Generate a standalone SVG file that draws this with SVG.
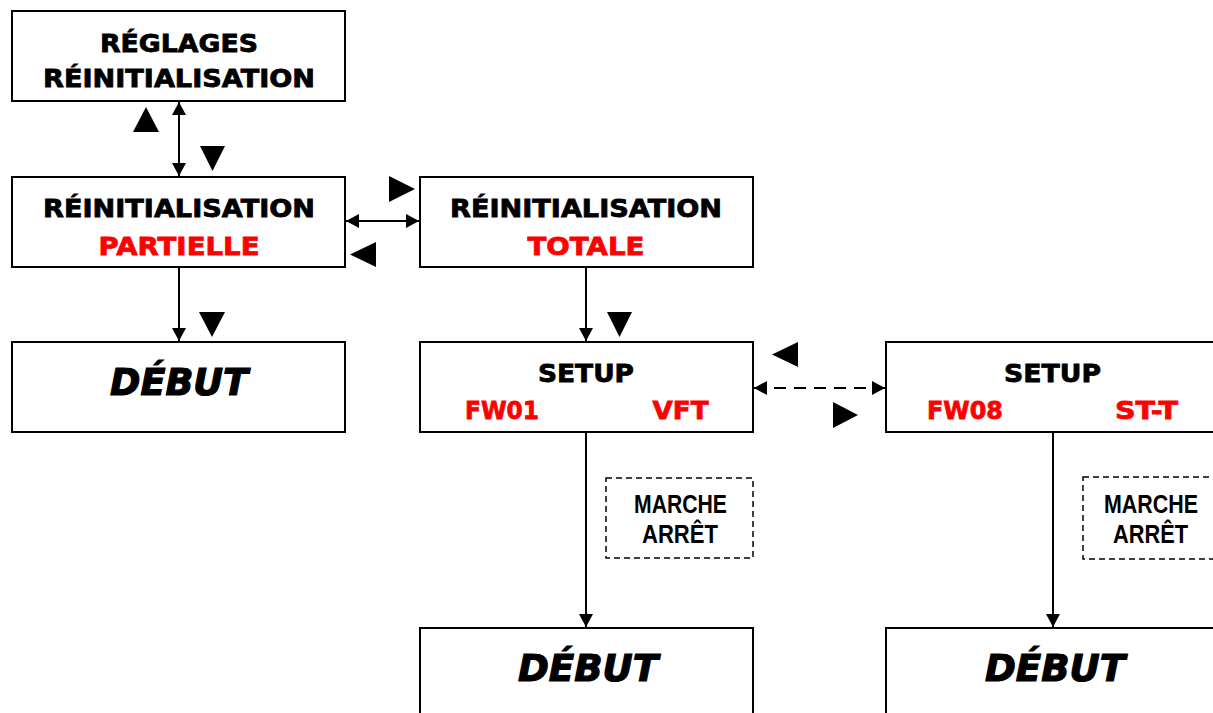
<svg xmlns="http://www.w3.org/2000/svg" width="1213" height="713" viewBox="0 0 1213 713">
<style>
.box{fill:#fff;stroke:#000;stroke-width:2}
.dbox{fill:none;stroke:#000;stroke-width:1.5;stroke-dasharray:6 4}
.t{font-family:"DejaVu Sans",sans-serif;font-weight:bold;font-size:25px;fill:#000;stroke:#000;stroke-width:0.8;text-anchor:middle}
.r{fill:#ff0000;stroke:#ff0000}
.deb{font-family:"DejaVu Sans",sans-serif;font-weight:bold;font-style:italic;font-size:37px;fill:#000;stroke:#000;stroke-width:1.2;text-anchor:middle}
.n{font-family:"Liberation Sans Narrow","Liberation Sans",sans-serif;font-weight:bold;font-size:25px;fill:#000;text-anchor:middle}
.ln{stroke:#000;stroke-width:2;fill:none}
.dash{stroke-dasharray:12 8}
.tri{fill:#000}
</style>
<defs>
<marker id="ah" markerUnits="userSpaceOnUse" markerWidth="13" markerHeight="14" viewBox="0 0 13 14" refX="13" refY="7" orient="auto-start-reverse">
<path d="M0,0 L13,7 L0,14 z" fill="#000"/>
</marker>
</defs>
<g id="connectors">
<line class="ln" x1="179" y1="102" x2="179" y2="176" marker-start="url(#ah)" marker-end="url(#ah)"/>
<line class="ln" x1="346" y1="221" x2="419" y2="221" marker-start="url(#ah)" marker-end="url(#ah)"/>
<line class="ln" x1="179" y1="268" x2="179" y2="341" marker-end="url(#ah)"/>
<line class="ln" x1="586" y1="268" x2="586" y2="341" marker-end="url(#ah)"/>
<line class="ln dash" x1="754" y1="388" x2="885" y2="388" marker-start="url(#ah)" marker-end="url(#ah)"/>
<line class="ln" x1="586" y1="433" x2="586" y2="627" marker-end="url(#ah)"/>
<line class="ln" x1="1053" y1="433" x2="1053" y2="627" marker-end="url(#ah)"/>
</g>
<g id="keys">
<polygon class="tri" points="133,132 159,132 146,107"/>
<polygon class="tri" points="200,146 225,146 212.5,171"/>
<polygon class="tri" points="389,176 389,202 415,189"/>
<polygon class="tri" points="376,242 376,267 350,254.5"/>
<polygon class="tri" points="199,312 225,312 212,337"/>
<polygon class="tri" points="607,312 632,312 619.5,337"/>
<polygon class="tri" points="798,342 798,367 772,354.5"/>
<polygon class="tri" points="833,402 833,428 858,415"/>
</g>
<g id="reglages">
<rect class="box" x="12" y="11" width="333" height="90"/>
<text class="t" x="179" y="52" textLength="158" lengthAdjust="spacingAndGlyphs">RÉGLAGES</text>
<text class="t" x="179" y="87" textLength="272" lengthAdjust="spacingAndGlyphs">RÉINITIALISATION</text>
</g>
<g id="partielle">
<rect class="box" x="12" y="177" width="333" height="90"/>
<text class="t" x="179" y="217" textLength="272" lengthAdjust="spacingAndGlyphs">RÉINITIALISATION</text>
<text class="t r" x="179" y="255" textLength="161" lengthAdjust="spacingAndGlyphs">PARTIELLE</text>
</g>
<g id="totale">
<rect class="box" x="420" y="177" width="333" height="90"/>
<text class="t" x="586" y="217" textLength="272" lengthAdjust="spacingAndGlyphs">RÉINITIALISATION</text>
<text class="t r" x="586" y="255" textLength="117" lengthAdjust="spacingAndGlyphs">TOTALE</text>
</g>
<g id="debut1">
<rect class="box" x="12" y="342" width="333" height="90"/>
<text class="deb" x="179" y="395" textLength="138" lengthAdjust="spacingAndGlyphs">DÉBUT</text>
</g>
<g id="setup1">
<rect class="box" x="420" y="342" width="333" height="90"/>
<text class="t" x="586" y="382" textLength="96" lengthAdjust="spacingAndGlyphs">SETUP</text>
<text class="t r" x="502" y="419" textLength="74" lengthAdjust="spacingAndGlyphs">FW01</text>
<text class="t r" x="680.5" y="419" textLength="56" lengthAdjust="spacingAndGlyphs">VFT</text>
</g>
<g id="setup2">
<rect class="box" x="886" y="342" width="333" height="90"/>
<text class="t" x="1052.5" y="382" textLength="97" lengthAdjust="spacingAndGlyphs">SETUP</text>
<text class="t r" x="965" y="419" textLength="76" lengthAdjust="spacingAndGlyphs">FW08</text>
<text class="t r" x="1146.5" y="419" textLength="63" lengthAdjust="spacingAndGlyphs">ST-T</text>
</g>
<g id="marche1">
<rect class="dbox" x="606" y="478" width="147" height="80"/>
<text class="n" x="680.5" y="513" textLength="93" lengthAdjust="spacingAndGlyphs">MARCHE</text>
<text class="n" x="680" y="543" textLength="76" lengthAdjust="spacingAndGlyphs">ARRÊT</text>
</g>
<g id="marche2">
<rect class="dbox" x="1083" y="477" width="150" height="82"/>
<text class="n" x="1151" y="513" textLength="94" lengthAdjust="spacingAndGlyphs">MARCHE</text>
<text class="n" x="1150.5" y="543" textLength="75" lengthAdjust="spacingAndGlyphs">ARRÊT</text>
</g>
<g id="debut2">
<rect class="box" x="420" y="628" width="333" height="100"/>
<text class="deb" x="588" y="681" textLength="140" lengthAdjust="spacingAndGlyphs">DÉBUT</text>
</g>
<g id="debut3">
<rect class="box" x="886" y="628" width="333" height="100"/>
<text class="deb" x="1055" y="681" textLength="140" lengthAdjust="spacingAndGlyphs">DÉBUT</text>
</g>
</svg>
